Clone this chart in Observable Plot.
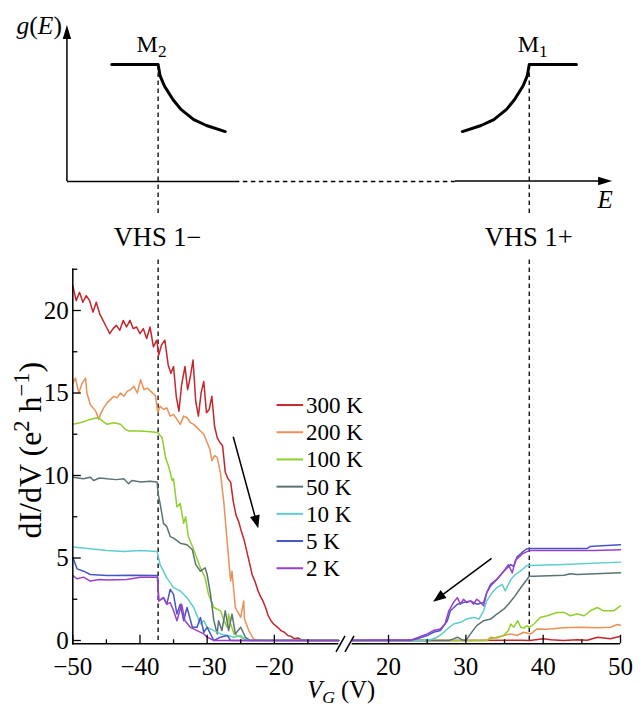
<!DOCTYPE html>
<html><head><meta charset="utf-8">
<script src="https://cdn.jsdelivr.net/npm/d3@7"></script>
<script src="https://cdn.jsdelivr.net/npm/@observablehq/plot@0.6"></script>
<style>
body{margin:0;background:#fff;}
#chart{width:644px;height:706px;position:relative;overflow:hidden;}
#chart svg{display:block;}
</style></head><body><div id="chart"></div>
<script>
// ---------- data ----------
const temps  = ["300 K","200 K","100 K","50 K","10 K","5 K","2 K"];
const colors = ["#c4262b","#ea9159","#8fd02c","#5b7473","#5fcdcd","#4757c2","#9c3fca"];
const vhs = [-37.3, 38.2];             // VHS 1−, VHS 1+ (V_G)
const vhsLabels = ["VHS 1\u2212", "VHS 1+"];
const xBreak = [-10.4, 15.3];          // broken axis ends
const xTicksMajor = [-50,-40,-30,-20,20,30,40,50];
const xTicksMinor = [-45,-35,-25,-15,25,35,45];
const yTicksMajor = [0,5,10,15,20];
const yTicksMinor = [2.5,7.5,12.5,17.5,22.5];

const neg300 = [[-50,21.5],[-49.5,20.6],[-49,21.1],[-48.5,20.5],[-48,20.9],[-47.5,20.6],[-47,19.9],[-46.5,20.5],[-46,19.8],[-45.5,19.4],[-45,19.0],[-44.5,18.6],[-44,18.9],[-43.5,19.1],[-43,18.8],[-42.5,19.4],[-42,19.0],[-41.5,19.4],[-41,18.9],[-40.5,19.0],[-40,18.6],[-39.5,18.9],[-39,18.3],[-38.5,19.0],[-38,17.8],[-37.5,18.2],[-37.2,17.3],[-36.8,17.9],[-36.3,18.2],[-35.8,16.7],[-35.4,16.2],[-35,16.6],[-34.6,14.8],[-34.2,13.9],[-33.8,15.5],[-33.3,16.6],[-32.9,15.2],[-32.5,16.0],[-32.1,17.0],[-31.7,14.5],[-31.3,13.6],[-30.9,15.0],[-30.5,15.7],[-30.1,13.8],[-29.7,14.0],[-29.3,14.8],[-28.9,13.0],[-28.5,12.3],[-28.1,12.0],[-27.7,11.8],[-27.3,10.2],[-26.9,9.8],[-26.5,9.6],[-26.1,8.4],[-25.7,7.6],[-25.3,7.2],[-24.9,6.6],[-24.5,6.1],[-24.1,5.4],[-23.7,4.7],[-23.3,4.0],[-22.9,3.6],[-22.5,3.1],[-22.1,2.7],[-21.7,2.4],[-21.3,2.0],[-20.9,1.5],[-20.5,1.2],[-20.1,1.0],[-19.5,0.8],[-19,0.6],[-18.5,0.5],[-18,0.3],[-17.5,0.25],[-17,0.1],[-16.5,0.15],[-16,0.05],[-15,0.0],[-10.4,0.0]];
const pos300 = [[15.3,0],[30,0],[37,0.02],[38.3,0],[40,0.1],[41,0.05],[42.6,0.0],[44.4,0.05],[45.7,0.02],[47,0.2],[48.7,0.1],[50,0.26]];

const neg200 = [[-50,15.6],[-49.6,15.9],[-49.1,15.0],[-48.6,15.6],[-48.1,15.9],[-47.9,15.0],[-47.4,14.3],[-46.6,13.9],[-46.1,13.4],[-45.9,13.7],[-45.4,14.1],[-44.9,14.4],[-44.4,14.6],[-43.9,14.8],[-43.4,14.7],[-42.9,15.0],[-42.4,14.8],[-41.9,15.1],[-41.4,15.2],[-40.9,15.4],[-40.4,15.0],[-39.9,15.8],[-39.4,15.2],[-38.9,15.3],[-38.4,15.1],[-37.7,14.85],[-37.35,13.8],[-37.0,14.2],[-36.5,14.0],[-36.0,14.1],[-35.5,13.6],[-35.0,13.7],[-34.5,13.4],[-34.0,13.1],[-33.5,13.6],[-33.0,13.5],[-32.5,13.2],[-32.0,13.1],[-31.5,12.9],[-31.0,12.7],[-30.5,12.5],[-30.0,12.0],[-29.6,11.6],[-29.3,10.9],[-28.9,11.2],[-28.5,11.1],[-28.0,10.1],[-27.5,8.3],[-27.0,5.9],[-26.5,3.6],[-26.3,4.2],[-25.8,2.0],[-25.0,1.4],[-24.55,2.4],[-24.45,1.3],[-23.8,0.6],[-23.1,0.1],[-22.5,0.02],[-10.4,0]];
const pos200 = [[15.3,0],[32.7,0],[33.2,0.2],[34.0,0.15],[34.9,0.3],[35.8,0.4],[36.6,0.3],[37.5,0.5],[38.4,0.4],[39.2,0.7],[40.5,0.68],[42.7,0.77],[44.8,0.8],[47,0.77],[48.7,0.8],[49.6,0.97],[50,0.93]];

const neg100 = [[-50,13.1],[-48.9,13.2],[-47.4,13.4],[-46.4,13.5],[-45.9,13.4],[-44.9,13.1],[-43.9,13.2],[-42.9,13.1],[-42.2,12.8],[-41.7,12.7],[-39.9,12.7],[-38.4,12.65],[-37.4,12.6],[-36.7,12.3],[-36.2,11.1],[-35.7,10.5],[-35.2,9.7],[-35.0,9.8],[-34.5,8.1],[-34.0,8.3],[-33.5,7.1],[-33.2,7.5],[-32.8,6.3],[-32.0,5.5],[-31.0,4.4],[-30.3,3.8],[-29.8,2.8],[-29.0,2.0],[-28.0,1.8],[-27.5,1.2],[-27.0,0.8],[-26.8,1.6],[-26.5,1.0],[-26.0,0.4],[-25.0,0.2],[-24.0,0.02],[-10.4,0]];
const pos100 = [[15.3,0],[32.7,0.02],[33.2,0.1],[34.0,0.2],[34.9,0.3],[35.5,0.6],[35.8,1.0],[36.2,0.8],[36.7,1.2],[37.1,0.8],[37.5,0.75],[37.9,0.9],[38.2,0.8],[38.8,1.0],[39.6,1.4],[40.5,1.5],[41.8,1.7],[42.7,1.7],[43.5,1.5],[44.4,1.6],[45.3,1.5],[46.1,1.8],[47,2.0],[47.8,1.8],[49.1,1.8],[50,2.1]];

const neg50 = [[-50,9.9],[-48.4,9.8],[-47.4,9.9],[-46.9,9.7],[-46,9.85],[-44.9,9.8],[-43.5,9.75],[-42.4,9.8],[-41.7,9.5],[-41.2,9.7],[-39.9,9.6],[-38.5,9.65],[-37.45,9.6],[-37.3,8.9],[-37.0,8.3],[-36.5,7.1],[-36.0,6.9],[-35.5,6.3],[-35.0,6.2],[-34.0,5.9],[-33.0,5.8],[-32.2,5.5],[-31.7,4.6],[-31.0,4.2],[-30.3,4.4],[-30.0,4.0],[-29.5,2.8],[-29.0,1.2],[-28.5,0.4],[-28.3,1.2],[-27.8,0.6],[-27.3,1.8],[-26.8,0.6],[-26.3,1.6],[-25.8,0.4],[-25.0,0.8],[-24.3,0.2],[-23.6,0.0],[-10.4,0]];
const pos50 = [[15.3,0],[27.8,0],[28.4,0.1],[28.9,0.2],[29.5,0.05],[30,0.0],[30.6,0.4],[31.4,0.9],[32.3,1.2],[33.2,1.3],[34,1.6],[34.9,1.9],[35.5,2.2],[36.2,2.6],[37.1,3.2],[37.9,3.7],[38.2,3.9],[38.8,3.9],[42.7,3.95],[43.5,4.05],[44.4,4.0],[50,4.1]];

const neg10 = [[-50,5.66],[-47.4,5.56],[-44.9,5.45],[-42.4,5.4],[-39.9,5.45],[-37.45,5.4],[-37.35,5.25],[-37.0,4.6],[-36.0,3.8],[-35.0,3.2],[-34.0,3.0],[-33.0,2.6],[-32.0,2.0],[-31.0,1.0],[-30.5,1.2],[-30.0,0.8],[-29.0,0.6],[-28.0,0.4],[-27.0,0.3],[-26.0,0.2],[-25.0,0.3],[-24.0,0.0],[-10.4,0]];
const pos10 = [[15.3,0],[24.1,0],[25.4,0.05],[26.3,0.2],[26.9,0.4],[27.6,0.7],[28.4,1.0],[29.3,1.1],[30.1,1.3],[31.0,1.4],[31.7,1.3],[32.3,1.8],[32.7,2.4],[33.4,2.9],[34.0,3.2],[34.7,3.4],[35.1,3.0],[35.8,3.7],[36.4,4.0],[37.3,4.3],[37.9,4.55],[38.2,4.55],[42.7,4.6],[50,4.75]];

const neg5 = [[-50,5.05],[-49.35,4.34],[-48.4,4.2],[-47.4,4.0],[-44.9,3.94],[-41,3.96],[-37.4,3.94],[-37.2,2.4],[-36.5,2.6],[-36.0,2.2],[-35.5,3.1],[-35.0,2.8],[-34.5,1.6],[-34.0,2.2],[-33.5,1.2],[-33.0,2.0],[-32.2,0.8],[-31.5,0.8],[-31.0,1.4],[-30.5,0.5],[-30.0,0.8],[-29.0,0.0],[-28.0,0.2],[-27.0,0.3],[-26.5,0.0],[-10.4,0]];
const pos5 = [[15.3,0],[22.8,0],[23.7,0.1],[25,0.3],[25.8,0.5],[26.7,0.6],[27.6,1.2],[28,1.8],[28.9,2.2],[29.7,2.3],[30.6,2.4],[31.4,2.2],[32.3,2.3],[32.7,2.9],[33.2,3.4],[34,3.7],[34.9,4.2],[35.8,4.6],[36.2,4.5],[36.6,5.05],[37.3,5.35],[37.9,5.56],[38.2,5.58],[42.7,5.58],[45.7,5.58],[46.1,5.7],[47,5.72],[50,5.8]];

const neg2 = [[-50,3.94],[-49.35,3.74],[-48.4,3.84],[-47.4,3.6],[-46,3.7],[-44.9,3.66],[-42,3.7],[-39.9,3.84],[-37.4,3.84],[-37.2,2.4],[-36.5,2.6],[-36.0,2.2],[-35.5,2.3],[-35.0,1.8],[-34.5,1.2],[-33.8,2.2],[-33.3,1.2],[-32.5,0.8],[-31.5,0.6],[-30.5,0.4],[-30.0,0.2],[-29.0,0.0],[-10.4,0]];
const pos2 = [[15.3,0.02],[23,0.05],[23.9,0.2],[25,0.4],[25.8,0.6],[26.7,0.7],[27.3,1.0],[27.8,1.8],[28.4,2.3],[28.9,2.6],[29.3,2.2],[29.7,2.5],[30.1,2.3],[30.6,2.4],[31.0,2.2],[31.4,2.5],[31.7,2.4],[32.3,2.1],[32.7,2.9],[33.2,3.3],[34.0,3.7],[34.9,4.2],[35.5,4.6],[36.0,4.1],[36.4,4.85],[37.3,5.25],[38.2,5.45],[46.6,5.45],[50,5.5]];

// annotation arrows (V_G, dI/dV)
const trendArrows = [
  {x1:-26.04, y1:12.32, x2:-22.32, y2:6.77},
  {x1:33.39,  y1:4.95,  x2:25.83,  y2:2.32}
];

// schematic g(E) (E drawn on V_G-equivalent positions, g in arbitrary units)
const gAxisE = -50.8, eAxisEnd = 48.98;
const eAxisDashed = [-25.8, 28.64];
const schemM2 = [[-44.2,0.75],[-37.3,0.75],[-37.0,0.677],[-36.36,0.612],[-35.1,0.526],[-33.9,0.462],[-32.0,0.397],[-30.1,0.359],[-27.3,0.32]];
const schemM1 = [[29.55,0.32],[31.97,0.359],[33.62,0.397],[35.26,0.462],[36.30,0.526],[37.39,0.612],[37.94,0.677],[38.2,0.75],[44.3,0.75]];

// ---------- helpers ----------
const FONT = "'Liberation Serif','Times New Roman',Times,serif";
const xScale = {type:"linear", domain:[-50, xBreak[0], xBreak[1], 50], range:[72.3, 338.3, 351.7, 620]};
const fmt = d => d < 0 ? "\u2212" + (-d) : String(d);

function richText(items) {
  return (index, scales, values, dims) => {
    const g = d3.create("svg:g").attr("font-family", FONT).attr("fill", "#000");
    for (const it of items) {
      const bx = it.fx ? it.fx(dims) : scales.x(it.x);
      const by = it.fy ? it.fy(dims) : scales.y(it.y);
      const px = bx + (it.dx || 0), py = by + (it.dy || 0);
      const t = g.append("text").attr("text-anchor", it.anchor || "middle")
        .attr("font-size", it.size)
        .attr("transform", `translate(${px},${py})` + (it.rotate ? ` rotate(${it.rotate})` : ""));
      let cur = 0;
      for (const p of it.parts) {
        const ts = t.append("tspan").text(p.t);
        if (p.i) ts.attr("font-style", "italic");
        let target = 0;
        if (p.s === "sub") { ts.attr("font-size", it.size * 0.72); target = it.size * 0.22; }
        else if (p.s === "sup") { ts.attr("font-size", it.size * 0.7); target = -it.size * 0.38; }
        if (target !== cur) ts.attr("dy", target - cur);
        cur = target;
      }
    }
    return g.node();
  };
}

function arrows(list, {len = 13, half = 4.5, width = 1.5} = {}) {
  return (index, scales) => {
    const g = d3.create("svg:g");
    for (const a of list) {
      const x1 = scales.x(a.x1), y1 = scales.y(a.y1), x2 = scales.x(a.x2), y2 = scales.y(a.y2);
      const dx = x2 - x1, dy = y2 - y1, L = Math.hypot(dx, dy), ux = dx / L, uy = dy / L;
      const bx = x2 - ux * len, by = y2 - uy * len;
      g.append("line").attr("x1", x1).attr("y1", y1).attr("x2", x2 - ux * len * 0.6).attr("y2", y2 - uy * len * 0.6)
        .attr("stroke", "#000").attr("stroke-width", width);
      g.append("path").attr("d", `M${x2},${y2}L${bx - uy * half},${by + ux * half}L${bx + uy * half},${by - ux * half}Z`)
        .attr("fill", "#000");
    }
    return g.node();
  };
}

// ---------- top schematic ----------
const topPlot = Plot.plot({
  width: 644, height: 258,
  marginLeft: 72.3, marginRight: 24, marginTop: 25, marginBottom: 77,
  style: {fontFamily: FONT, background: "white"},
  x: {...xScale, axis: null},
  y: {domain: [0, 1], range: [181, 25], axis: null},
  marks: [
    Plot.ruleY([0], {x1: gAxisE, x2: eAxisDashed[0], strokeWidth: 1.5}),
    Plot.ruleY([0], {x1: eAxisDashed[0], x2: eAxisDashed[1], strokeWidth: 1.5, strokeDasharray: "4.5,3.5"}),
    Plot.ruleX(vhs, {y1: -0.205, y2: 0.75, strokeWidth: 1.3, strokeDasharray: "4.5,3.5"}),
    Plot.line(schemM2, {x: d => d[0], y: d => d[1], strokeWidth: 3}),
    Plot.line(schemM1, {x: d => d[0], y: d => d[1], strokeWidth: 3}),
    arrows([{x1: gAxisE, y1: 0, x2: gAxisE, y2: 1}, {x1: eAxisDashed[1], y1: 0, x2: eAxisEnd, y2: 0}], {len: 14, half: 4.2, width: 1.5}),
    richText([
      {x: gAxisE, y: 1, dx: -5, dy: 9, anchor: "end", size: 25.5, parts: [{t:"g", i:1},{t:"("},{t:"E", i:1},{t:")"}]},
      {x: vhs[0], y: 0.75, dx: -6, dy: -12, size: 24, parts: [{t:"M"},{t:"2", s:"sub"}]},
      {x: vhs[1], y: 0.75, dx: 4, dy: -12, size: 24, parts: [{t:"M"},{t:"1", s:"sub"}]},
      {x: eAxisEnd, y: 0, dx: -7, dy: 27, size: 25, parts: [{t:"E", i:1}]},
      {x: vhs[0], y: 0, dy: 65, size: 26.5, parts: [{t: vhsLabels[0]}]},
      {x: vhs[1], y: 0, dy: 65, size: 26.5, parts: [{t: vhsLabels[1]}]}
    ])
  ]
});

// ---------- main plot ----------
const seriesNeg = [neg300, neg200, neg100, neg50, neg10, neg5, neg2];
const seriesPos = [pos300, pos200, pos100, pos50, pos10, pos5, pos2];
const rows = [];
temps.forEach((T, i) => {
  seriesNeg[i].forEach(([v, g]) => rows.push({T, part: "neg", v, g}));
  seriesPos[i].forEach(([v, g]) => rows.push({T, part: "pos", v, g}));
});
const yMin = -0.2;
const axisSegs = [[-50, xBreak[0]], [xBreak[1], 50]];

function legend(anchorX, anchorY, step) {
  return (index, scales) => {
    const g = d3.create("svg:g").attr("font-family", FONT).attr("font-size", 23).attr("text-anchor", "start");
    const px = scales.x(anchorX), py = scales.y(anchorY);
    temps.forEach((T, i) => {
      const y = py + i * step;
      g.append("line").attr("x1", px).attr("x2", px + 26.6).attr("y1", y).attr("y2", y)
        .attr("stroke", colors[i]).attr("stroke-width", 2);
      g.append("text").attr("x", px + 29.5).attr("y", y + 8).attr("fill", "#000").attr("text-anchor", "start").text(T);
    });
    return g.node();
  };
}

function breakMarks() {
  return (index, scales) => {
    const c = (scales.x(xBreak[0]) + scales.x(xBreak[1])) / 2, y0 = scales.y(yMin);
    const g = d3.create("svg:g").attr("stroke", "#000").attr("stroke-width", 1.5);
    g.append("line").attr("x1", c - 9).attr("y1", y0 + 8.5).attr("x2", c).attr("y2", y0 - 7.5);
    g.append("line").attr("x1", c).attr("y1", y0 + 8.5).attr("x2", c + 9).attr("y2", y0 - 7.5);
    return g.node();
  };
}

const mainPlot = Plot.plot({
  width: 644, height: 448,
  marginLeft: 72.3, marginRight: 24, marginTop: 10.75, marginBottom: 62.7,
  style: {fontFamily: FONT, fontSize: "25px", background: "white", color: "#000"},
  x: {...xScale, label: null},
  y: {domain: [yMin, 22.5], range: [385.3, 10.75], label: null},
  color: {domain: temps, range: colors},
  marks: [
    Plot.ruleX(vhs, {y1: 0, y2: 23.15, strokeWidth: 1.3, strokeDasharray: "4.5,3.5"}),
    Plot.line(rows, {x: "v", y: "g", z: d => d.T + d.part, stroke: "T", strokeWidth: 1.5, strokeLinejoin: "round"}),
    Plot.frame({anchor: "left", strokeWidth: 1.5}),
    Plot.ruleY(axisSegs, {y: () => yMin, x1: d => d[0], x2: d => d[1], strokeWidth: 1.5}),
    Plot.axisX({ticks: xTicksMajor, tickSize: -8.5, tickPadding: 21.5, tickFormat: fmt, label: null, strokeWidth: 1.3}),
    Plot.axisX({ticks: xTicksMinor, tickSize: -4, tickPadding: 0, tickFormat: () => "", label: null, strokeWidth: 1.3}),
    Plot.axisY({ticks: yTicksMajor, tickSize: -8.5, tickPadding: 12.5, tickFormat: fmt, label: null, strokeWidth: 1.3}),
    Plot.axisY({ticks: yTicksMinor, tickSize: -5, tickPadding: 0, tickFormat: () => "", label: null, strokeWidth: 1.3}),
    breakMarks(),
    arrows(trendArrows, {len: 13, half: 5, width: 1.5}),
    legend(-19.6, 14.24, 27.2),
    richText([
      {fx: d => (d.marginLeft + d.width - d.marginRight) / 2, fy: d => d.height - d.marginBottom, dx: -5, dy: 54.7, size: 24.5,
       parts: [{t:"V", i:1},{t:"G", i:1, s:"sub"},{t:" (V)"}]},
      {fx: d => d.marginLeft, y: 11.5, dx: -31, rotate: -90, size: 32,
       parts: [{t:"dI/dV (e"},{t:"2", s:"sup"},{t:" h"},{t:"\u22121", s:"sup"},{t:")"}]}
    ])
  ]
});

const root = document.getElementById("chart");
root.append(topPlot, mainPlot);
</script></body></html>
